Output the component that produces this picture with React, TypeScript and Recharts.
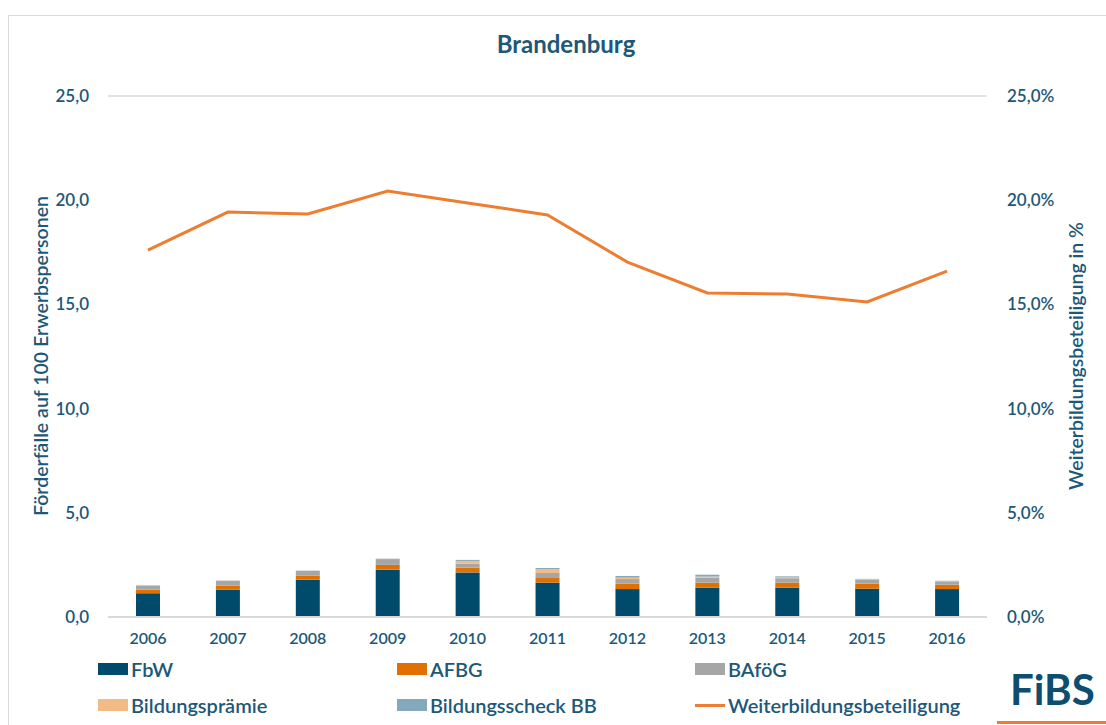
import { ComposedChart, Bar, Line, XAxis, YAxis, CartesianGrid } from 'recharts';

const years = ['2006', '2007', '2008', '2009', '2010', '2011', '2012', '2013', '2014', '2015', '2016'];
const fbw = [1.14, 1.31, 1.79, 2.27, 2.14, 1.65, 1.34, 1.41, 1.41, 1.36, 1.34];
const afbg = [0.17, 0.19, 0.19, 0.23, 0.23, 0.22, 0.26, 0.24, 0.24, 0.24, 0.21];
const bafoeg = [0.19, 0.23, 0.23, 0.28, 0.19, 0.24, 0.22, 0.24, 0.21, 0.19, 0.16];
const praemie = [0.02, 0.01, 0.01, 0.01, 0.13, 0.19, 0.07, 0.05, 0.04, 0.02, 0.02];
const scheck = [0.01, 0.01, 0.01, 0.01, 0.05, 0.05, 0.08, 0.09, 0.05, 0.02, 0.01];
const beteiligung = [17.6, 19.43, 19.34, 20.44, 19.87, 19.29, 17.03, 15.55, 15.5, 15.12, 16.6];
const leftTicks = [0, 5, 10, 15, 20, 25];

const data = years.map((y, i) => ({
  year: y,
  fbw: fbw[i],
  afbg: afbg[i],
  bafoeg: bafoeg[i],
  praemie: praemie[i],
  scheck: scheck[i],
  beteiligung: beteiligung[i],
}));

const textColor = '#1d5878';
const font = 'Lato, "Noto Sans", sans-serif';

const legendItems = [
  { name: 'FbW', color: '#004b6b', x: 98, y: 669, line: false },
  { name: 'AFBG', color: '#e07000', x: 397, y: 669, line: false },
  { name: 'BAföG', color: '#a6a6a6', x: 695, y: 669, line: false },
  { name: 'Bildungsprämie', color: '#f2bb85', x: 98, y: 705, line: false },
  { name: 'Bildungsscheck BB', color: '#84a9bc', x: 397, y: 705, line: false },
  { name: 'Weiterbildungsbeteiligung', color: '#ed7d31', x: 695, y: 705, line: true },
];

const fmt = (v: number) => `${v.toFixed(1).replace('.', ',')}`;

export default function App() {
  return (
    <div style={{ position: 'relative', width: 1106, height: 725, fontFamily: font, color: textColor, overflow: 'hidden', fontWeight: 600 }}>
      <style>{`body{margin:0}`}</style>
      <div style={{ position: 'absolute', left: 8, top: 15, width: 1110, height: 730, border: '1px solid #d9d9d9' }} />
      <div style={{ position: 'absolute', left: 0, width: 1132, top: 29, textAlign: 'center', fontSize: 24, fontWeight: 700 }}>
        Brandenburg
      </div>
      <ComposedChart
        width={1106}
        height={725}
        data={data}
        margin={{ top: 96, right: 59, bottom: 78, left: 48 }}
        style={{ position: 'absolute', left: 0, top: 0 }}
      >
        <CartesianGrid vertical={false} stroke="#d9d9d9" strokeWidth={1.5} />
        <XAxis
          dataKey="year"
          height={30}
          tickLine={false}
          axisLine={{ stroke: '#d9d9d9', strokeWidth: 2 }}
          tickSize={14}
          tick={{ fill: textColor, fontSize: 16, fontFamily: font, fontWeight: 600 }}
        />
        <YAxis
          yAxisId="left"
          width={60}
          domain={[0, 25]}
          ticks={leftTicks}
          tickFormatter={fmt}
          tickLine={false}
          axisLine={false}
          tickSize={17}
          tick={{ fill: textColor, fontSize: 17, fontFamily: font, fontWeight: 600 }}
        />
        <YAxis
          yAxisId="right"
          orientation="right"
          width={60}
          domain={[0, 25]}
          ticks={leftTicks}
          tickFormatter={(v: number) => `${fmt(v)}%`}
          tickLine={false}
          axisLine={false}
          tickSize={18}
          tick={{ fill: textColor, fontSize: 17, fontFamily: font, fontWeight: 600 }}
        />
        <Bar yAxisId="left" dataKey="fbw" stackId="a" fill="#004b6b" barSize={24} isAnimationActive={false} />
        <Bar yAxisId="left" dataKey="afbg" stackId="a" fill="#e07000" barSize={24} isAnimationActive={false} />
        <Bar yAxisId="left" dataKey="bafoeg" stackId="a" fill="#a6a6a6" barSize={24} isAnimationActive={false} />
        <Bar yAxisId="left" dataKey="praemie" stackId="a" fill="#f2bb85" barSize={24} isAnimationActive={false} />
        <Bar yAxisId="left" dataKey="scheck" stackId="a" fill="#84a9bc" barSize={24} isAnimationActive={false} />
        <Line
          yAxisId="right"
          dataKey="beteiligung"
          stroke="#ed7d31"
          strokeWidth={3}
          dot={false}
          type="linear"
          isAnimationActive={false}
        />
      </ComposedChart>
      <div
        style={{
          position: 'absolute',
          left: 40,
          top: 356,
          transform: 'translate(-50%, -50%) rotate(-90deg)',
          whiteSpace: 'nowrap',
          fontSize: 19.5,
        }}
      >
        Förderfälle auf 100 Erwerbspersonen
      </div>
      <div
        style={{
          position: 'absolute',
          left: 1075,
          top: 356,
          transform: 'translate(-50%, -50%) rotate(-90deg)',
          whiteSpace: 'nowrap',
          fontSize: 19.5,
        }}
      >
        Weiterbildungsbeteiligung in %
      </div>
      {legendItems.map((it) => (
        <div
          key={it.name}
          style={{ position: 'absolute', left: it.x, top: it.y - 13, height: 26, display: 'flex', alignItems: 'center', fontSize: 20 }}
        >
          <span
            style={{
              display: 'inline-block',
              width: 30,
              height: it.line ? 3 : 12,
              background: it.color,
              marginRight: 3,
            }}
          />
          {it.name}
        </div>
      ))}
      <div style={{ position: 'absolute', left: 1010, top: 664, fontSize: 42, fontWeight: 700, color: '#0d4d6e' }}>FiBS</div>
      <div style={{ position: 'absolute', left: 997, top: 721, width: 120, height: 3, background: '#ed7d31' }} />
    </div>
  );
}
